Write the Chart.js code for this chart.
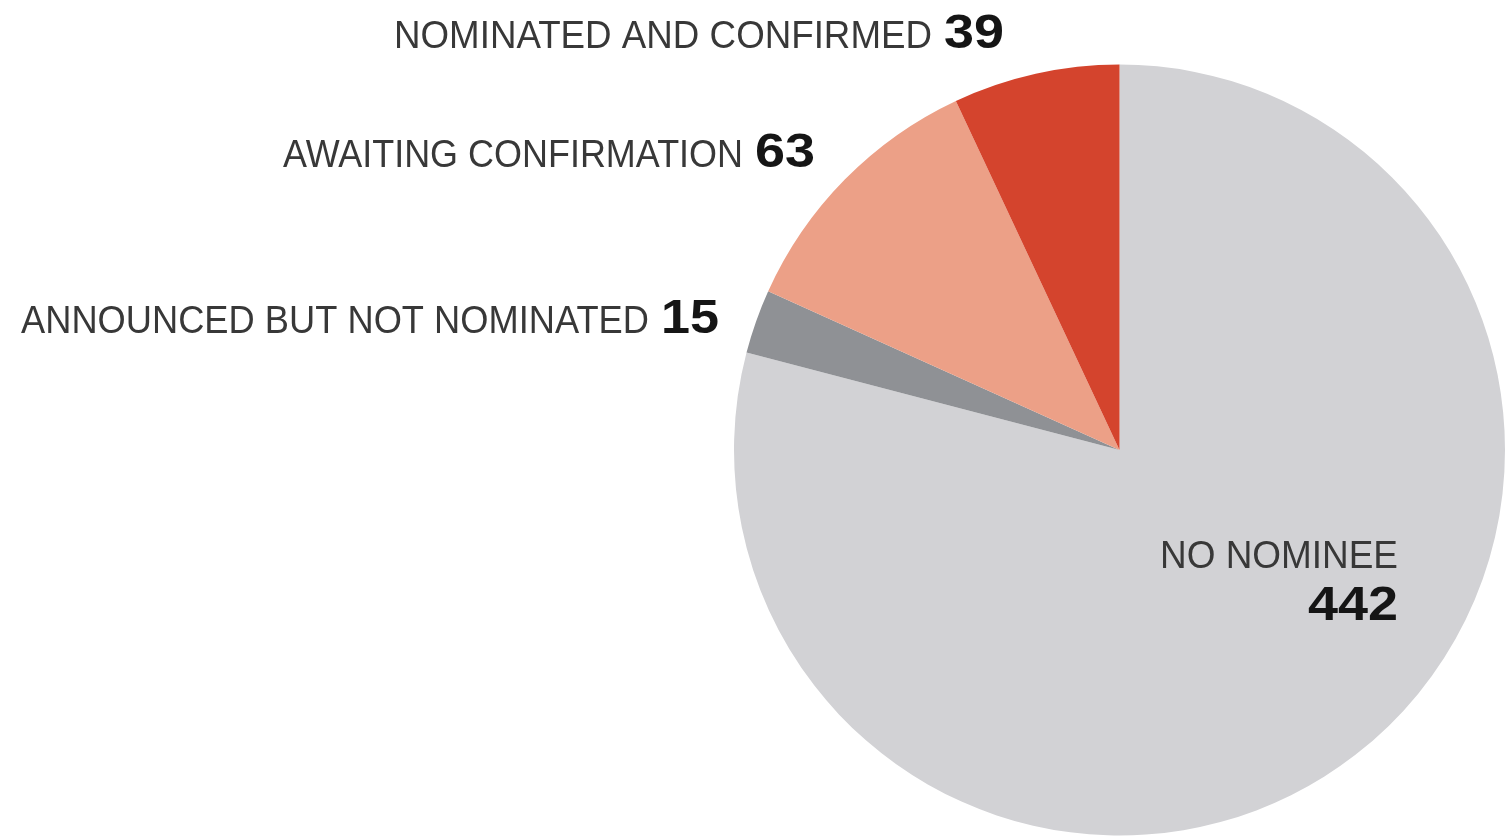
<!DOCTYPE html>
<html><head><meta charset="utf-8">
<script src="https://cdn.jsdelivr.net/npm/chart.js@4.4.1/dist/chart.umd.min.js"></script>
<style>html,body{margin:0;padding:0;background:#fff;overflow:hidden}#wrap{width:1505px;height:840px;position:relative}</style>
</head><body><div id="wrap"><canvas id="c"></canvas></div>
<script>
// Data (drawn clockwise from 12 o'clock)
const categories = ["NO NOMINEE", "ANNOUNCED BUT NOT NOMINATED", "AWAITING CONFIRMATION", "NOMINATED AND CONFIRMED"];
const values = [442, 15, 63, 39];
const colors = ["#d2d2d5", "#8f9195", "#eca087", "#d4442d"];

// Label layout: [right edge of number, baseline, width of name text]
const labelLayout = [
  null,
  {right: 719, base: 333, nameW: 628, numW: 58},
  {right: 815, base: 167, nameW: 460, numW: 60},
  {right: 1004, base: 48, nameW: 538, numW: 60}
];

const labelPlugin = {
  id: 'labels',
  afterDraw(chart) {
    const ctx = chart.ctx;
    ctx.save();
    ctx.textBaseline = 'alphabetic';
    function fitText(t, x, y, w, font, color) {
      ctx.font = font;
      const m = ctx.measureText(t).width;
      ctx.save();
      ctx.translate(x, y);
      ctx.scale(w / m, 1);
      ctx.fillStyle = color;
      ctx.textAlign = 'left';
      ctx.fillText(t, 0, 0);
      ctx.restore();
    }
    const regFont = '39px "Liberation Sans", Arial, sans-serif';
    const boldFont = 'bold 48px "Liberation Sans", Arial, sans-serif';
    for (let i = 1; i < categories.length; i++) {
      const L = labelLayout[i];
      const numX = L.right - L.numW;
      fitText(String(values[i]), numX, L.base, L.numW, boldFont, '#151515');
      fitText(categories[i], numX - 12 - L.nameW, L.base, L.nameW, regFont, '#383838');
    }
    // NO NOMINEE inside slice
    fitText(categories[0], 1160, 568, 238, regFont, '#383838');
    fitText(String(values[0]), 1398 - 90, 620, 90, boldFont, '#151515');
    ctx.restore();
  }
};

new Chart(document.getElementById('c'), {
  type: 'pie',
  data: {
    labels: categories,
    datasets: [{data: values, backgroundColor: colors, borderWidth: 0, hoverOffset: 0}]
  },
  options: {
    responsive: true,
    maintainAspectRatio: false,
    animation: false,
    layout: {padding: {left: 734, right: 0, top: 64, bottom: 4}},
    plugins: {legend: {display: false}, tooltip: {enabled: false}}
  },
  plugins: [labelPlugin]
});
</script></body></html>
